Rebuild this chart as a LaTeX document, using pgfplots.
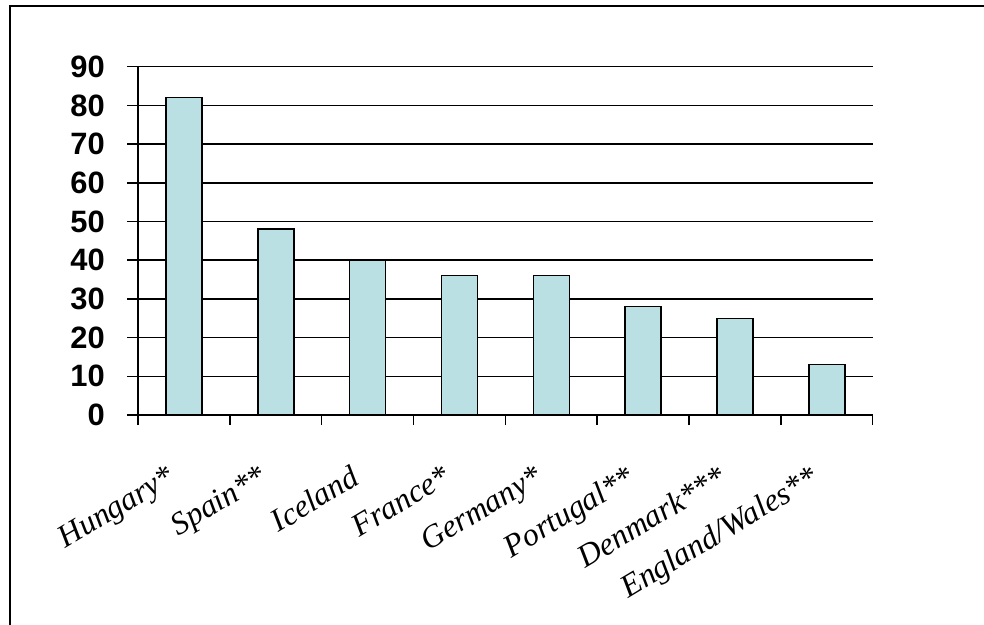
\documentclass[border=0pt]{standalone}
\usepackage{fontspec}
\setmainfont{Liberation Serif}
\newfontfamily\arialfont{Liberation Sans}
\usepackage{pgfplots}
\pgfplotsset{compat=1.18}
\definecolor{barblue}{RGB}{187,224,227}
\begin{document}
\begin{tikzpicture}[x=1bp,y=1bp]
\path[use as bounding box] (0,0) rectangle (984,-625);
\draw[line width=1.5bp] (10,-640) -- (10,-6) -- (1000,-6);
\begin{axis}[
  at={(138bp,-415bp)}, anchor=south west,
  scale only axis, width=734.7bp, height=348.3bp,
  xmin=-0.5, xmax=7.5, ymin=0, ymax=90,
  ytick={0,10,...,90},
  xtick={0,...,7},
  xticklabels={Hungary*,Spain**,Iceland,France*,Germany*,Portugal**,Denmark***,England/Wales**},
  minor xtick={-0.5,0.5,...,7.5},
  axis x line=bottom, axis y line=left,
  axis line style={-, line width=1.5bp, black},
  tick align=outside,
  major tick length=11bp, minor tick length=10bp,
  major x tick style={draw=none},
  minor x tick style={black, line width=1.5bp},
  major y tick style={black, line width=1.5bp},
  ymajorgrids, major grid style={black, line width=1.5bp},
  /pgf/number format/assume math mode=true,
  yticklabel style={font=\arialfont\bfseries\fontsize{31}{31}\selectfont, inner sep=0pt, xshift=-22bp},
  xticklabel style={xshift=-18bp, yshift=-38bp, rotate=31, anchor=north east, inner sep=0pt, font=\itshape\fontsize{32}{32}\selectfont},
]
\addplot[ybar, bar width=36bp, fill=barblue, draw=black, line width=1.5bp]
  coordinates {(0,82) (1,48) (2,40) (3,36) (4,36) (5,28) (6,25) (7,13)};
\end{axis}
\end{tikzpicture}
\end{document}
